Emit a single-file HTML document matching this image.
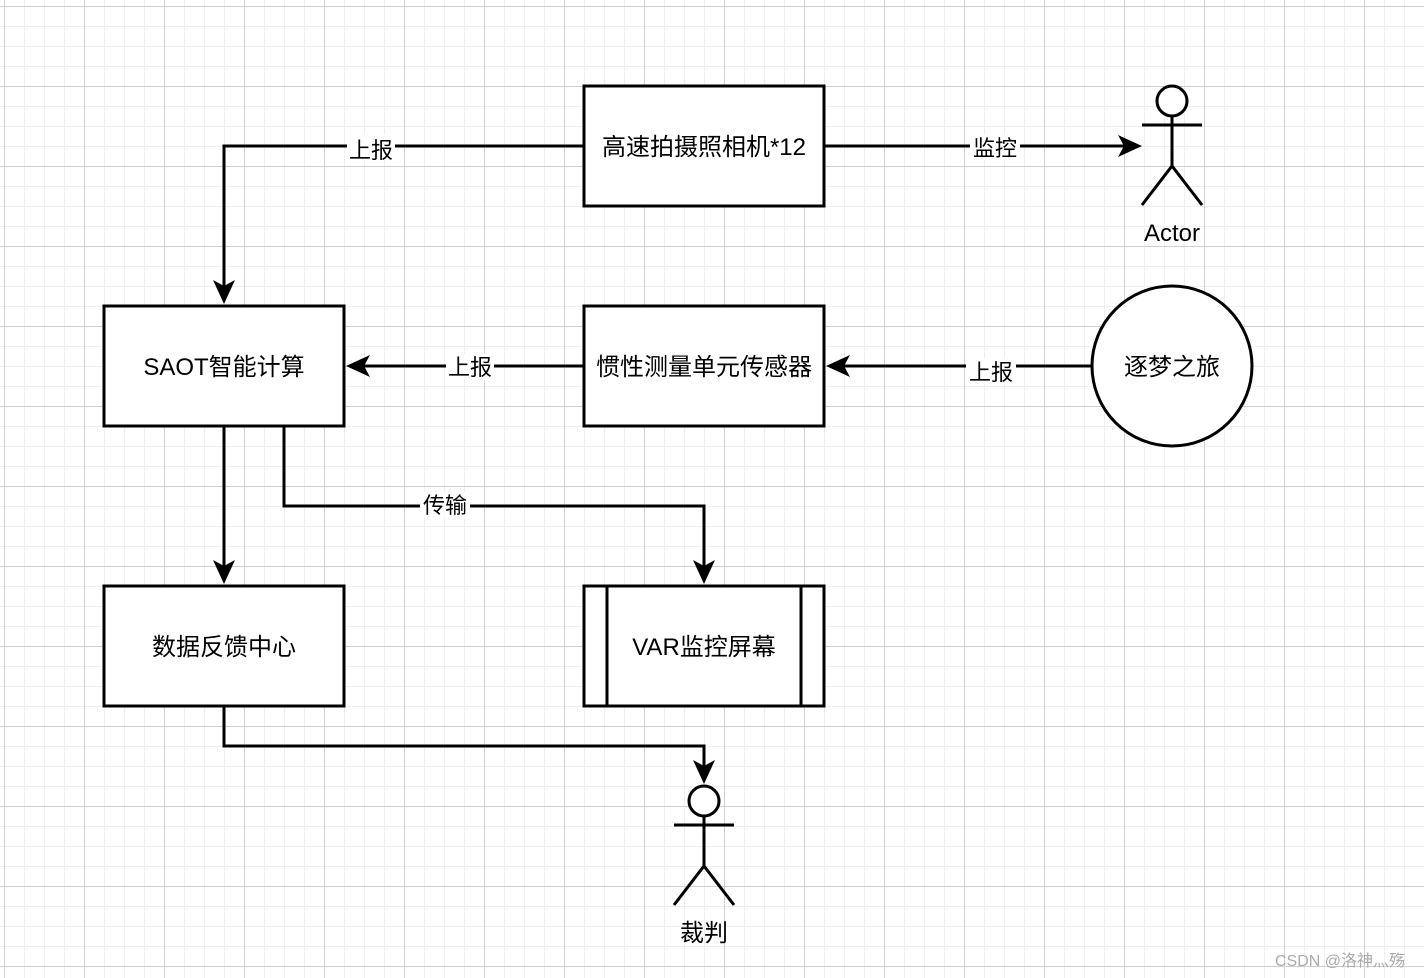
<!DOCTYPE html>
<html><head><meta charset="utf-8"><style>
html,body{margin:0;padding:0;}
body{width:1424px;height:978px;overflow:hidden;background-color:#fff;
background-image:
linear-gradient(to right,#d0d0d0 1px,transparent 1px),
linear-gradient(to bottom,#d0d0d0 1px,transparent 1px),
linear-gradient(to right,#efefef 1px,transparent 1px),
linear-gradient(to bottom,#efefef 1px,transparent 1px);
background-size:80px 80px,80px 80px,20px 20px,20px 20px;
background-position:4px 6px,4px 6px,4px 6px,4px 6px;}
svg{position:absolute;left:0;top:0;}
text{font-family:"Liberation Sans","Noto Sans CJK SC",sans-serif;font-size:22px;fill:#000;}
.b{font-size:24px;}
</style></head><body>
<svg width="1424" height="978" viewBox="0 0 1424 978">
<g fill="none" stroke="#000" stroke-width="3">
<rect x="584" y="86" width="240" height="120" fill="#fff"/>
<rect x="104" y="306" width="240" height="120" fill="#fff"/>
<rect x="584" y="306" width="240" height="120" fill="#fff"/>
<rect x="104" y="586" width="240" height="120" fill="#fff"/>
<rect x="584" y="586" width="240" height="120" fill="#fff"/>
<line x1="607" y1="586" x2="607" y2="706"/>
<line x1="801" y1="586" x2="801" y2="706"/>
<circle cx="1172" cy="366" r="80" fill="#fff"/>
<circle cx="1172" cy="101" r="15" fill="#fff"/>
<line x1="1142" y1="125" x2="1202" y2="125"/>
<line x1="1172" y1="116" x2="1172" y2="166"/>
<polyline points="1142,205 1172,166 1202,205"/>
<circle cx="704" cy="801" r="15" fill="#fff"/>
<line x1="674" y1="825" x2="734" y2="825"/>
<line x1="704" y1="816" x2="704" y2="866"/>
<polyline points="674,905 704,866 734,905"/>
<polyline points="584,146 224,146 224,290"/>
<line x1="824" y1="146" x2="1128" y2="146"/>
<line x1="584" y1="366" x2="360" y2="366"/>
<line x1="1092" y1="366" x2="840" y2="366"/>
<line x1="224" y1="426" x2="224" y2="570"/>
<polyline points="284,426 284,506 704,506 704,570"/>
<polyline points="224,706 224,746 704,746 704,770"/>
</g>
<g fill="#000">
<polygon points="224,304 213,280 224,286 235,280"/>
<polygon points="1142,146 1118,135 1124,146 1118,157"/>
<polygon points="346,366 370,355 364,366 370,377"/>
<polygon points="826,366 850,355 844,366 850,377"/>
<polygon points="224,584 213,560 224,566 235,560"/>
<polygon points="704,584 693,560 704,566 715,560"/>
<polygon points="704,784 693,760 704,766 715,760"/>
</g>
<g fill="#fff">
<rect x="347" y="134" width="48" height="26"/>
<rect x="970" y="134" width="50" height="26"/>
<rect x="446" y="354" width="48" height="26"/>
<rect x="966" y="358" width="50" height="26"/>
<rect x="420" y="492" width="50" height="26"/>
</g>
<text x="371" y="158" text-anchor="middle">上报</text>
<text x="995" y="156" text-anchor="middle">监控</text>
<text x="470" y="375" text-anchor="middle">上报</text>
<text x="991" y="380" text-anchor="middle">上报</text>
<text x="445" y="513" text-anchor="middle">传输</text>
<text class="b" x="704" y="155" text-anchor="middle">高速拍摄照相机*12</text>
<text class="b" x="224" y="375" text-anchor="middle">SAOT智能计算</text>
<text class="b" x="704" y="375" text-anchor="middle">惯性测量单元传感器</text>
<text class="b" x="1172" y="375" text-anchor="middle">逐梦之旅</text>
<text class="b" x="224" y="655" text-anchor="middle">数据反馈中心</text>
<text class="b" x="704" y="655" text-anchor="middle">VAR监控屏幕</text>
<text class="b" x="1172" y="241" text-anchor="middle">Actor</text>
<text class="b" x="704" y="941" text-anchor="middle">裁判</text>
<text x="1340" y="966" text-anchor="middle" style="font-size:16px;fill:#aaa">CSDN @洛神灬殇</text>
</svg>
</body></html>
